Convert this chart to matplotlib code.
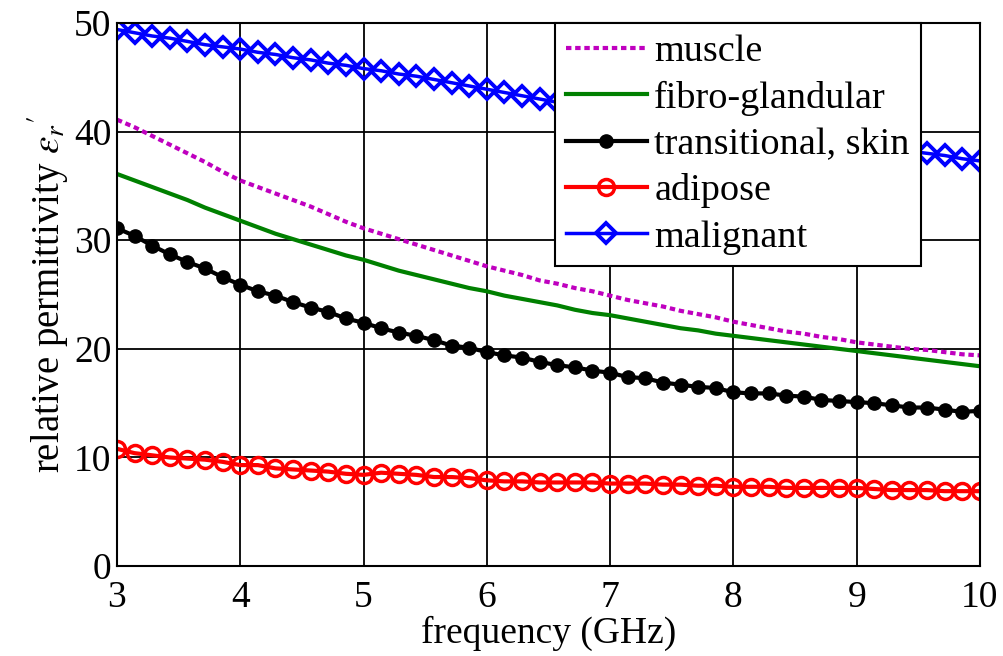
import numpy as np
import matplotlib
matplotlib.use('Agg')
from matplotlib import pyplot as plt

plt.rcParams['font.family'] = ['Liberation Serif', 'DejaVu Serif']
plt.rcParams['mathtext.fontset'] = 'stix'

# frequency sweep, 3-10 GHz in 1/7 GHz steps (50 points)
freq = np.linspace(3, 10, 50)

muscle = [41.1, 40.4, 39.6, 38.8, 38.0, 37.2, 36.3, 35.5,
          34.9, 34.3, 33.7, 33.1, 32.4, 31.7, 31.1,
          30.6, 30.1, 29.6, 29.1, 28.6, 28.1, 27.6,
          27.2, 26.8, 26.3, 26.0, 25.6, 25.3, 24.9,
          24.5, 24.2, 23.9, 23.5, 23.2, 22.9, 22.5,
          22.2, 21.9, 21.6, 21.4, 21.1, 20.9, 20.6,
          20.4, 20.2, 20.0, 19.9, 19.7, 19.5, 19.4]

fibro = [36.1, 35.5, 34.9, 34.3, 33.7, 33.0, 32.4, 31.8,
         31.2, 30.6, 30.1, 29.6, 29.1, 28.6, 28.2,
         27.7, 27.2, 26.8, 26.4, 26.0, 25.6, 25.3,
         24.9, 24.6, 24.3, 24.0, 23.6, 23.3, 23.1,
         22.8, 22.5, 22.2, 21.9, 21.7, 21.4, 21.2,
         21.0, 20.8, 20.6, 20.4, 20.2, 20.0, 19.8,
         19.6, 19.4, 19.2, 19.0, 18.8, 18.6, 18.4]

skin = [31.1, 30.4, 29.5, 28.7, 28.0, 27.4, 26.6, 25.9,
        25.3, 24.9, 24.3, 23.8, 23.4, 22.8, 22.4,
        21.9, 21.5, 21.2, 20.8, 20.3, 20.1, 19.7,
        19.4, 19.2, 18.8, 18.5, 18.3, 18.0, 17.8,
        17.4, 17.3, 16.9, 16.7, 16.5, 16.4, 16.0,
        15.9, 15.9, 15.7, 15.6, 15.3, 15.2, 15.1,
        15.0, 14.8, 14.6, 14.6, 14.4, 14.2, 14.3]

adipose = [10.8, 10.4, 10.2, 10.0, 9.9, 9.8, 9.6, 9.3,
           9.3, 9.0, 8.9, 8.8, 8.7, 8.5, 8.4,
           8.6, 8.5, 8.4, 8.2, 8.2, 8.1, 7.9,
           7.8, 7.8, 7.7, 7.7, 7.7, 7.7, 7.6,
           7.6, 7.6, 7.5, 7.5, 7.4, 7.4, 7.3,
           7.3, 7.3, 7.2, 7.2, 7.2, 7.2, 7.2,
           7.1, 7.0, 7.0, 7.0, 6.9, 6.9, 6.9]

malignant = [49.4, 49.1, 48.8, 48.6, 48.3, 48.0, 47.8, 47.6,
             47.3, 47.1, 46.8, 46.6, 46.3, 46.1, 45.8,
             45.6, 45.3, 45.1, 44.8, 44.5, 44.2, 43.9,
             43.6, 43.3, 43.0, 42.7, 42.4, 42.1, 41.9,
             41.6, 41.4, 41.1, 40.9, 40.6, 40.4, 40.2,
             40.0, 39.8, 39.6, 39.4, 39.2, 39.0, 38.8,
             38.6, 38.4, 38.2, 38.0, 37.8, 37.5, 37.3]

fig = plt.figure(figsize=(10.04, 6.56), dpi=100)
ax = fig.add_axes([0.1165, 0.137, 0.8595, 0.828])

ax.plot(freq, muscle, color='#bf00bf', lw=3, ls=(0, (1.3, 0.9)), label='muscle')
ax.plot(freq, fibro, color='#008000', lw=3, label='fibro-glandular')
ax.plot(freq, skin, color='black', lw=3, marker='o', ms=9.5, label='transitional, skin')
ax.plot(freq, adipose, color='#ff0000', lw=3, marker='o', ms=11.5, mfc='none', mew=2.5,
        label='adipose')
ax.plot(freq, malignant, color='#0000ff', lw=2.5, marker='D', ms=10.5, mfc='none', mew=2.8,
        label='malignant')

ax.set_xlim(3, 10)
ax.set_ylim(0, 50)
ax.set_xticks(range(3, 11))
ax.set_yticks(range(0, 51, 10))
ax.grid(True, color='black', lw=1.3, ls='-')
ax.set_axisbelow(True)
for s in ax.spines.values():
    s.set_linewidth(1.5)
ax.tick_params(axis='both', which='major', labelsize=27, direction='in', length=0, pad=4)
ax.tick_params(axis='x', pad=10)

ax.set_xlabel('frequency (GHz)', fontsize=27, labelpad=1)
ax.set_ylabel(r"relative permittivity $\varepsilon_r{}'$", fontsize=28, labelpad=2)

leg = ax.legend(loc='upper left', bbox_to_anchor=(0.5075, 1.0), borderaxespad=0,
                fontsize=27.5, numpoints=1, handlelength=2.1, handletextpad=0.2,
                labelspacing=0.3, borderpad=0.3, fancybox=False, framealpha=1)
leg.get_frame().set_edgecolor('black')
leg.get_frame().set_linewidth(1.5)

plt.savefig('out.png', dpi=100)
